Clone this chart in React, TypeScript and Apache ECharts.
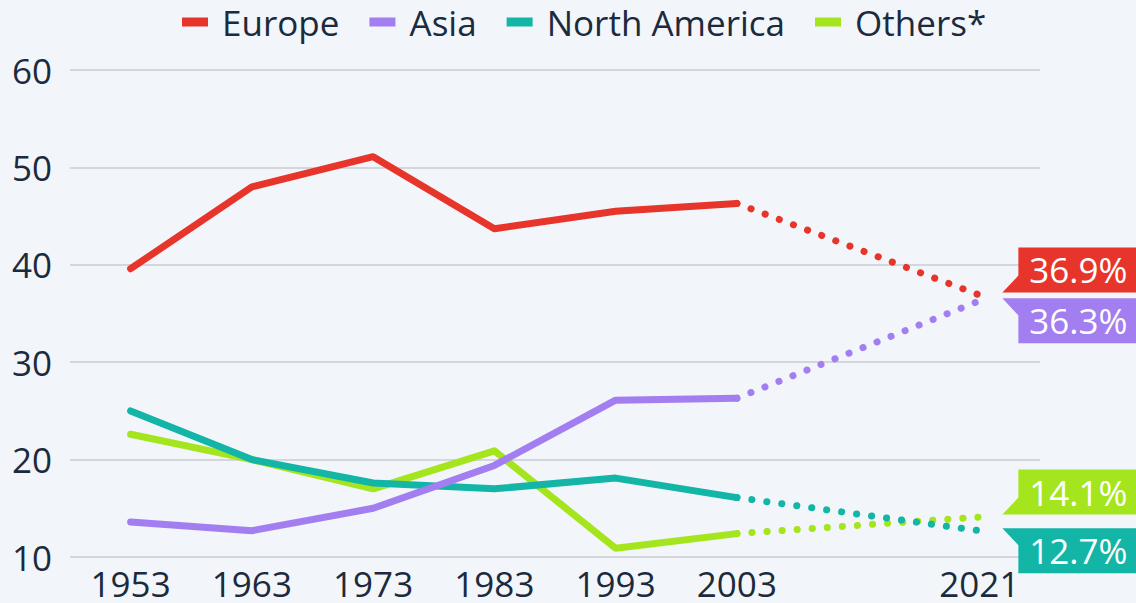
import React, { useEffect, useRef } from "react";
import * as echarts from "echarts";

const years = ["1953", "1963", "1973", "1983", "1993", "2003", "", "2021"];
const europe = [39.6, 48.0, 51.1, 43.7, 45.5, 46.3, null, 36.9];
const asia = [13.6, 12.7, 15.0, 19.4, 26.1, 26.3, null, 36.3];
const northAmerica = [25.0, 20.0, 17.6, 17.0, 18.1, 16.1, null, 12.7];
const others = [22.6, 20.0, 17.0, 20.9, 10.9, 12.4, null, 14.1];

const names = ["Europe", "Asia", "North America", "Others*"];
const colors = ["#e8352b", "#a27ef0", "#13b5a7", "#a4e51d"];
const seriesValues = [europe, asia, northAmerica, others];
// tag tail direction: true = tail at bottom (box above point)
const tagAbove = [true, false, false, true];

const TAG_DOWN = "path://M16 0 L138 0 L138 45 L0 45 L16 28 Z";
const TAG_UP = "path://M0 0 L138 0 L138 45 L16 45 L16 17 Z";

const TEXT = "#1b2a3c";
const FONT = "'Open Sans', 'Noto Sans', sans-serif";

export default function App() {
  const ref = useRef<HTMLDivElement>(null);
  useEffect(() => {
    const chart = echarts.init(ref.current!, null, { renderer: "svg" });
    const series: any[] = [];
    seriesValues.forEach((vals, i) => {
      const solid = vals.map((v, j) => (j <= 5 ? v : null));
      const dotted = vals.map((v, j) => (j === 5 || j === 7 ? v : null));
      const last = vals[vals.length - 1] as number;
      series.push({
        name: names[i],
        type: "line",
        data: solid,
        showSymbol: false,
        z: 10 - i,
        itemStyle: { color: colors[i] },
        lineStyle: { color: colors[i], width: 7, cap: "round", join: "round" },
      });
      series.push({
        name: names[i],
        type: "line",
        data: dotted,
        connectNulls: true,
        showSymbol: false,
        z: 10 - i,
        itemStyle: { color: colors[i] },
        lineStyle: { color: colors[i], width: 7, type: [0.1, 15], cap: "round" },
        markPoint: {
          silent: true,
          data: [
            {
              coord: [years[years.length - 1], last],
              value: last,
              symbol: tagAbove[i] ? TAG_DOWN : TAG_UP,
              symbolSize: [138, 45],
              symbolOffset: [92, tagAbove[i] ? -25 : 20],
              itemStyle: { color: colors[i] },
              label: {
                show: true,
                position: "inside",
                offset: [7, 0],
                formatter: (p: any) => p.value.toFixed(1) + "%",
                color: "#ffffff",
                fontSize: 35,
                fontFamily: FONT,
              },
            },
          ],
        },
      });
    });

    chart.setOption({
      animation: false,
      backgroundColor: "#f2f5f9",
      textStyle: { fontFamily: FONT },
      legend: {
        top: -3,
        left: 177,
        icon: "rect",
        itemWidth: 26,
        itemHeight: 9,
        itemGap: 30,
        data: names,
        formatter: (n: string) => " " + n,
        textStyle: { color: TEXT, fontSize: 35, fontFamily: FONT, lineHeight: 40 },
      },
      grid: { left: 70, right: 96, top: 70, bottom: 46 },
      xAxis: {
        type: "category",
        data: years,
        boundaryGap: true,
        axisLine: { show: false },
        axisTick: { show: false },
        axisLabel: {
          color: TEXT,
          fontSize: 35,
          lineHeight: 28,
          fontFamily: FONT,
          margin: 12,
          interval: 0,
        },
      },
      yAxis: {
        type: "value",
        min: 10,
        max: 60,
        interval: 10,
        axisLine: { show: false },
        axisTick: { show: false },
        axisLabel: { color: TEXT, fontSize: 35, fontFamily: FONT, margin: 18 },
        splitLine: { lineStyle: { color: "#c9cdd2", width: 1.5 } },
      },
      series,
    });
    return () => chart.dispose();
  }, []);
  return (
    <div
      ref={ref}
      style={{ position: "absolute", left: 0, top: 0, width: 1136, height: 603 }}
    />
  );
}
